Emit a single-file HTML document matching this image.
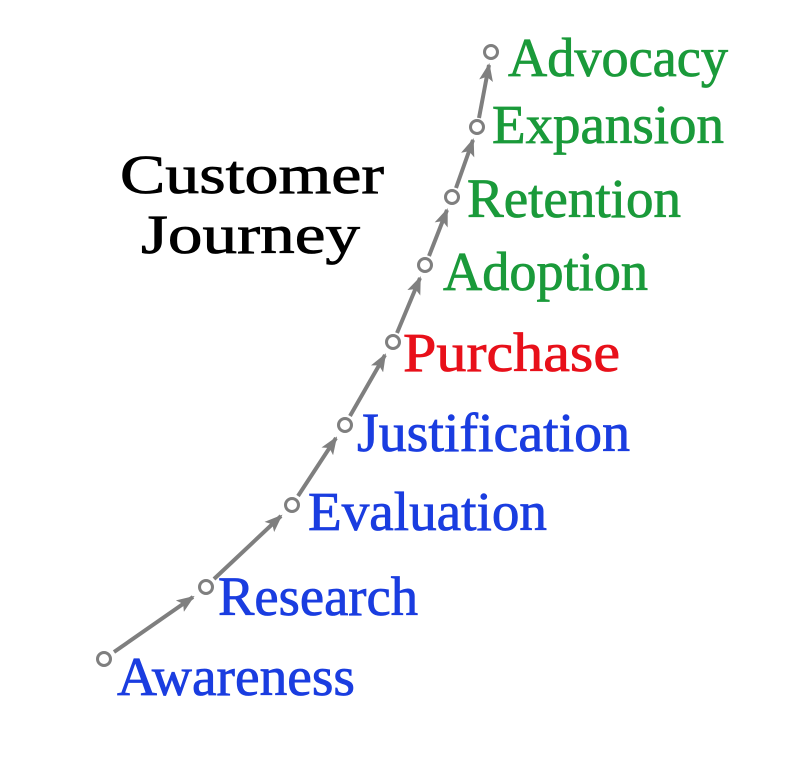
<!DOCTYPE html>
<html><head><style>html,body{margin:0;padding:0;background:#fff}</style></head>
<body>
<svg width="800" height="762" xmlns="http://www.w3.org/2000/svg">
<defs>
<marker id="ah" markerWidth="18" markerHeight="14" refX="16" refY="7" orient="auto" markerUnits="userSpaceOnUse" viewBox="0 0 18 14">
<path d="M0,0 L18,7 L0,14 L4,7 Z" fill="#7f7f7f"/>
</marker>
</defs>
<g stroke="#7f7f7f" stroke-width="3" fill="none">
<circle cx="104" cy="659" r="6.5"/>
<circle cx="206" cy="587" r="6.5"/>
<circle cx="292" cy="505" r="6.5"/>
<circle cx="345" cy="425" r="6.5"/>
<circle cx="393" cy="342" r="6.5"/>
<circle cx="425" cy="265" r="6.5"/>
<circle cx="452" cy="197" r="6.5"/>
<circle cx="477" cy="127" r="6.5"/>
<circle cx="491" cy="52" r="6.5"/>
</g>
<g font-family="Liberation Serif, serif" font-size="55" stroke-width="0.8">
<g fill="#000" stroke="#000">
<text x="120" y="193" textLength="264" lengthAdjust="spacingAndGlyphs">Customer</text>
<text x="141" y="253" textLength="219" lengthAdjust="spacingAndGlyphs">Journey</text>
</g>
<g fill="#1a3de0" stroke="#1a3de0">
<text x="117" y="695" textLength="238" lengthAdjust="spacingAndGlyphs">Awareness</text>
<text x="218" y="615" textLength="200" lengthAdjust="spacingAndGlyphs">Research</text>
<text x="308" y="530" textLength="239" lengthAdjust="spacingAndGlyphs">Evaluation</text>
<text x="357" y="451" textLength="273" lengthAdjust="spacingAndGlyphs">Justification</text>
</g>
<text x="403" y="371" textLength="217" lengthAdjust="spacingAndGlyphs" fill="#e8101a" stroke="#e8101a">Purchase</text>
<g fill="#1a9a3a" stroke="#1a9a3a">
<text x="443" y="290" textLength="205" lengthAdjust="spacingAndGlyphs">Adoption</text>
<text x="467" y="217" textLength="214" lengthAdjust="spacingAndGlyphs">Retention</text>
<text x="492" y="143" textLength="232" lengthAdjust="spacingAndGlyphs">Expansion</text>
<text x="508" y="76" textLength="220" lengthAdjust="spacingAndGlyphs">Advocacy</text>
</g>
</g>
<g stroke="#7f7f7f" stroke-width="4" fill="none" marker-end="url(#ah)">
<line x1="114" y1="652" x2="193" y2="597"/>
<line x1="214" y1="579" x2="281" y2="516"/>
<line x1="298" y1="496" x2="336" y2="438"/>
<line x1="350" y1="416" x2="385" y2="355"/>
<line x1="397" y1="333" x2="420" y2="278"/>
<line x1="429" y1="256" x2="447" y2="210"/>
<line x1="456" y1="188" x2="473" y2="140"/>
<line x1="479" y1="118" x2="489" y2="65"/>
</g>
</svg>
</body></html>
